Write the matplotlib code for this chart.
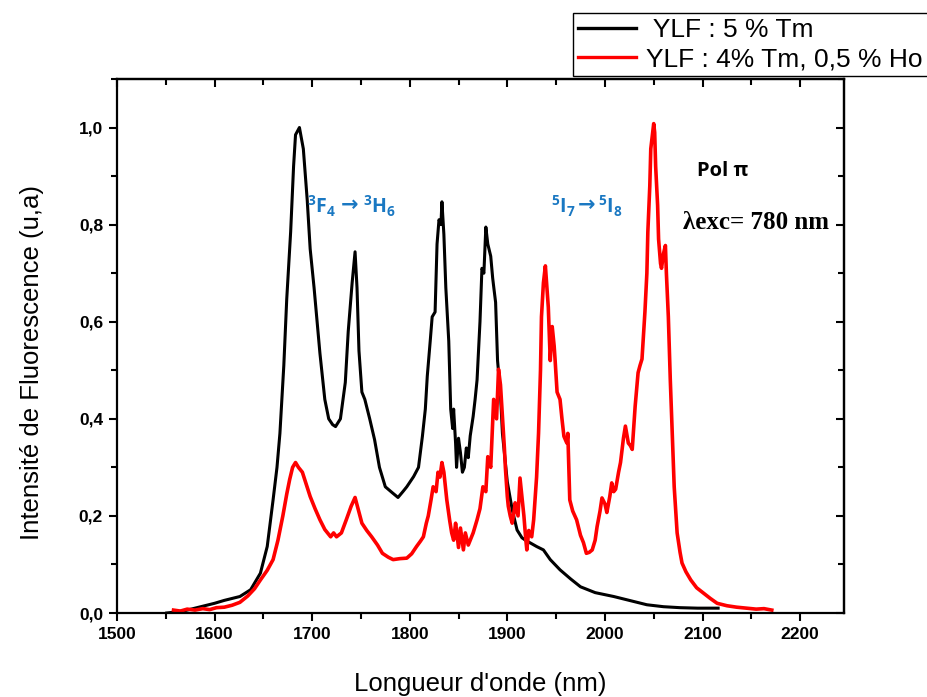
import matplotlib
matplotlib.use('Agg')
import matplotlib.pyplot as plt
from matplotlib.ticker import MultipleLocator, FuncFormatter

# Black curve: YLF 5 % Tm  (wavelength nm, intensity)
tm_points = [
    (1551, 0.000), (1560, 0.002), (1570, 0.005), (1580, 0.010), (1590, 0.015), (1600, 0.020),
    (1610, 0.026), (1618, 0.030), (1626, 0.034), (1637, 0.048), (1647, 0.082), (1654, 0.137),
    (1660, 0.233), (1664, 0.300), (1667, 0.370), (1671, 0.510), (1674, 0.647), (1678, 0.785),
    (1681, 0.920), (1683, 0.985), (1687, 1.000), (1691, 0.956), (1695, 0.850), (1698, 0.750),
    (1702, 0.670), (1708, 0.535), (1713, 0.440), (1717, 0.400), (1721, 0.388), (1724, 0.384),
    (1729, 0.400), (1734, 0.475), (1737, 0.580), (1741, 0.680), (1744, 0.744), (1746, 0.670),
    (1748, 0.540), (1751, 0.455), (1754, 0.440), (1759, 0.400), (1764, 0.357), (1769, 0.300),
    (1775, 0.260), (1782, 0.248), (1788, 0.238), (1793, 0.250), (1797, 0.260), (1804, 0.281),
    (1809, 0.300), (1813, 0.364), (1816, 0.420), (1818, 0.488), (1821, 0.560), (1823, 0.610),
    (1826, 0.620), (1828, 0.760), (1830, 0.810), (1832, 0.800), (1833, 0.847), (1835, 0.780),
    (1837, 0.670), (1840, 0.560), (1842, 0.420), (1844, 0.380), (1845, 0.420), (1847, 0.350),
    (1848, 0.300), (1850, 0.360), (1852, 0.330), (1854, 0.290), (1856, 0.300), (1858, 0.340),
    (1860, 0.320), (1862, 0.365), (1865, 0.405), (1867, 0.440), (1869, 0.480), (1872, 0.600),
    (1874, 0.710), (1876, 0.700), (1878, 0.795), (1880, 0.760), (1883, 0.735), (1885, 0.690),
    (1886, 0.673), (1888, 0.640), (1890, 0.520), (1893, 0.450), (1895, 0.370), (1898, 0.310),
    (1900, 0.270), (1905, 0.213), (1910, 0.171), (1915, 0.155), (1920, 0.148), (1923, 0.145),
    (1930, 0.137), (1937, 0.130), (1944, 0.110), (1954, 0.089), (1965, 0.070), (1975, 0.054),
    (1990, 0.042), (2009, 0.034), (2025, 0.026), (2043, 0.017), (2060, 0.013), (2077, 0.011),
    (2095, 0.010), (2116, 0.010),
]

# Red curve: YLF 4 % Tm, 0,5 % Ho  (wavelength nm, intensity)
ho_points = [
    (1558, 0.006), (1565, 0.004), (1572, 0.008), (1580, 0.006), (1588, 0.009), (1595, 0.007),
    (1602, 0.011), (1610, 0.012), (1618, 0.016), (1626, 0.022), (1634, 0.035), (1641, 0.050),
    (1647, 0.068), (1654, 0.088), (1660, 0.110), (1665, 0.150), (1670, 0.200), (1674, 0.245),
    (1677, 0.275), (1680, 0.300), (1683, 0.310), (1686, 0.300), (1690, 0.290), (1694, 0.265),
    (1698, 0.240), (1703, 0.215), (1708, 0.192), (1713, 0.172), (1719, 0.157), (1722, 0.165),
    (1725, 0.157), (1730, 0.165), (1735, 0.192), (1740, 0.220), (1744, 0.238), (1747, 0.215),
    (1751, 0.185), (1756, 0.170), (1761, 0.157), (1767, 0.140), (1772, 0.123), (1778, 0.115),
    (1783, 0.110), (1790, 0.112), (1797, 0.113), (1802, 0.122), (1807, 0.137), (1811, 0.148),
    (1814, 0.157), (1817, 0.185), (1819, 0.200), (1822, 0.235), (1824, 0.260), (1827, 0.250),
    (1829, 0.290), (1831, 0.280), (1833, 0.310), (1835, 0.290), (1838, 0.233), (1841, 0.190),
    (1843, 0.165), (1845, 0.150), (1847, 0.185), (1848, 0.170), (1850, 0.135), (1852, 0.175),
    (1855, 0.130), (1857, 0.165), (1860, 0.140), (1862, 0.150), (1865, 0.165), (1869, 0.192),
    (1872, 0.215), (1875, 0.260), (1878, 0.250), (1880, 0.322), (1883, 0.300), (1886, 0.440),
    (1889, 0.400), (1891, 0.502), (1893, 0.470), (1895, 0.405), (1897, 0.340), (1898, 0.300),
    (1900, 0.240), (1901, 0.220), (1903, 0.200), (1905, 0.185), (1907, 0.210), (1908, 0.227),
    (1911, 0.200), (1913, 0.278), (1915, 0.240), (1917, 0.200), (1919, 0.150), (1920, 0.130),
    (1922, 0.170), (1925, 0.157), (1927, 0.192), (1930, 0.280), (1932, 0.370), (1934, 0.500),
    (1935, 0.610), (1937, 0.680), (1939, 0.715), (1941, 0.660), (1942, 0.630), (1944, 0.520),
    (1946, 0.590), (1948, 0.550), (1949, 0.520), (1951, 0.455), (1954, 0.440), (1956, 0.400),
    (1958, 0.364), (1961, 0.350), (1962, 0.370), (1964, 0.233), (1967, 0.210), (1971, 0.192),
    (1975, 0.160), (1978, 0.145), (1981, 0.123), (1984, 0.125), (1987, 0.130), (1990, 0.150),
    (1992, 0.178), (1995, 0.210), (1997, 0.237), (2000, 0.225), (2002, 0.207), (2005, 0.240),
    (2007, 0.268), (2009, 0.250), (2011, 0.255), (2014, 0.290), (2016, 0.310), (2019, 0.360),
    (2021, 0.385), (2024, 0.350), (2026, 0.345), (2028, 0.337), (2031, 0.426), (2034, 0.495),
    (2036, 0.510), (2038, 0.523), (2041, 0.620), (2043, 0.700), (2044, 0.785), (2046, 0.880),
    (2047, 0.956), (2049, 0.990), (2050, 1.008), (2051, 0.990), (2052, 0.920), (2054, 0.840),
    (2055, 0.770), (2057, 0.720), (2058, 0.710), (2060, 0.740), (2062, 0.757), (2063, 0.700),
    (2065, 0.610), (2067, 0.480), (2069, 0.370), (2071, 0.260), (2074, 0.165), (2077, 0.125),
    (2079, 0.103), (2083, 0.085), (2088, 0.068), (2094, 0.052), (2101, 0.041), (2108, 0.030),
    (2115, 0.020), (2125, 0.015), (2135, 0.012), (2145, 0.010), (2155, 0.008), (2163, 0.009),
    (2171, 0.006),
]

tm_wl, tm_int = zip(*tm_points)
ho_wl, ho_int = zip(*ho_points)

label_tm = ' YLF : 5 % Tm'
label_ho = 'YLF : 4% Tm, 0,5 % Ho'

plt.rcParams['font.family'] = ['Liberation Sans', 'DejaVu Sans']
plt.rcParams['mathtext.fontset'] = 'custom'
plt.rcParams['mathtext.rm'] = 'Open Sans:bold'
plt.rcParams['mathtext.bf'] = 'Open Sans:bold'
plt.rcParams['mathtext.default'] = 'bf'

fig = plt.figure(figsize=(9.28, 6.97), dpi=100)
ax = fig.add_axes([0.126, 0.1205, 0.7835, 0.7662])

ax.plot(tm_wl, tm_int, color='black', linewidth=2.2, label=label_tm)
ax.plot(ho_wl, ho_int, color='#ff0000', linewidth=2.6, label=label_ho)

ax.set_xlim(1500, 2245)
ax.set_ylim(0, 1.1)
ax.xaxis.set_major_locator(MultipleLocator(100))
ax.xaxis.set_minor_locator(MultipleLocator(50))
ax.yaxis.set_major_locator(MultipleLocator(0.2))
ax.yaxis.set_minor_locator(MultipleLocator(0.1))
ax.yaxis.set_major_formatter(FuncFormatter(lambda v, p: f'{v:.1f}'.replace('.', ',')))

ax.tick_params(which='both', direction='out', width=1.5, top=False, right=False)
ax.tick_params(which='major', length=6, labelsize=12.5, pad=4)
ax.tick_params(which='minor', length=4)
for lab in ax.get_xticklabels() + ax.get_yticklabels():
    lab.set_fontweight('bold')
for s in ax.spines.values():
    s.set_linewidth(1.6)

# inward ticks on top and right spines
sec_x = ax.secondary_xaxis('top')
sec_x.xaxis.set_major_locator(MultipleLocator(100))
sec_x.xaxis.set_minor_locator(MultipleLocator(50))
sec_x.tick_params(which='both', direction='in', width=1.5, labeltop=False)
sec_x.tick_params(which='major', length=6)
sec_x.tick_params(which='minor', length=4)
sec_x.spines['top'].set_linewidth(1.6)
sec_y = ax.secondary_yaxis('right')
sec_y.yaxis.set_major_locator(MultipleLocator(0.2))
sec_y.yaxis.set_minor_locator(MultipleLocator(0.1))
sec_y.tick_params(which='both', direction='in', width=1.5, labelright=False)
sec_y.tick_params(which='major', length=6)
sec_y.tick_params(which='minor', length=4)
sec_y.spines['right'].set_linewidth(1.6)

ax.set_xlabel("Longueur d'onde (nm)", fontsize=18.5, labelpad=22)
ax.set_ylabel('Intensité de Fluorescence (u,a)', fontsize=18.5)
ax.yaxis.set_label_coords(-0.10, 0.47)

# transition labels: term symbols with a bold arrow between them
blue = '#1a78c2'
transitions = [
    (1695, 1729, 1752, r'$^{3}F_{4}$', r'$^{3}H_{6}$'),
    (1945, 1972, 1993, r'$^{5}I_{7}$', r'$^{5}I_{8}$'),
]
for x_from, x_arrow, x_to, lvl_from, lvl_to in transitions:
    ax.text(x_from, 0.837, lvl_from, color=blue, fontsize=14, va='center', ha='left')
    ax.text(x_arrow, 0.840, '→', color=blue, fontsize=15, fontweight='bold',
            va='center', ha='left', family='DejaVu Sans')
    ax.text(x_to, 0.837, lvl_to, color=blue, fontsize=14, va='center', ha='left')

ax.text(2094, 0.911, 'Pol π', fontsize=14.5, fontweight='bold', va='center', ha='left',
        family=['Open Sans', 'DejaVu Sans'])
ax.text(2080, 0.804, 'λexc= 780 nm', fontsize=18, fontweight='bold', va='center', ha='left',
        family=['Liberation Serif', 'DejaVu Serif'])

leg = fig.legend(loc='upper left', bbox_to_anchor=(573 / 928, 1 - 13 / 697), fontsize=19,
                 frameon=True, fancybox=False, edgecolor='black', framealpha=1,
                 handlelength=2.2, handletextpad=0.4, borderpad=0.18, labelspacing=0.22,
                 borderaxespad=0)
leg.get_frame().set_linewidth(1.0)
for line in leg.get_lines():
    line.set_linewidth(2.4)

fig.savefig('out.png', dpi=100)
